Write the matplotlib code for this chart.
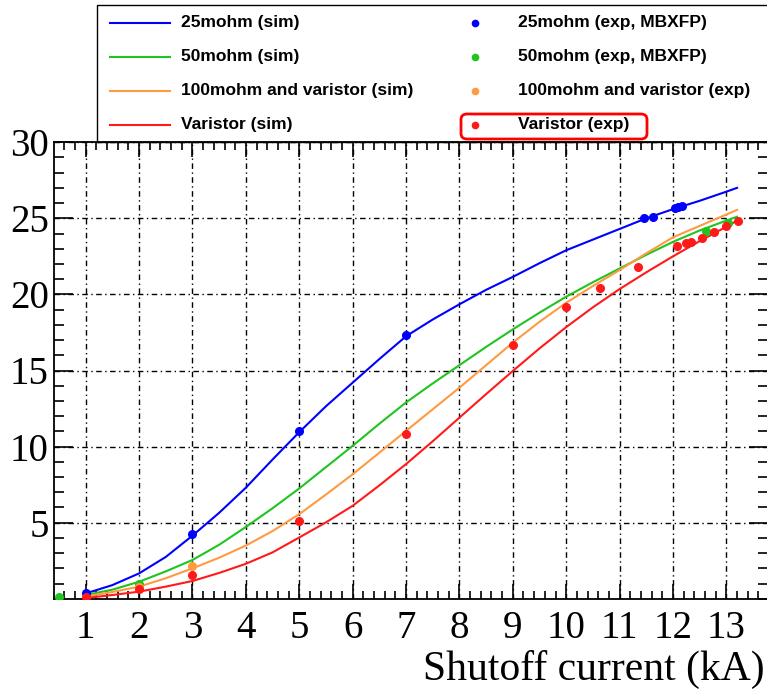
import matplotlib
matplotlib.use("Agg")
import matplotlib.pyplot as plt
from matplotlib.lines import Line2D
from matplotlib.patches import Rectangle, FancyBboxPatch
from matplotlib.ticker import MultipleLocator

# --- simulated curves (voltage vs shutoff current) ---
sim_x = [1, 1.5, 2, 2.5, 3, 3.5, 4, 4.5, 5, 5.5, 6, 6.5, 7, 7.5, 8, 8.5,
         9, 9.5, 10, 10.5, 11, 11.5, 12, 12.5, 13, 13.2]
sim_25mohm = [0.35, 0.9, 1.67, 2.75, 4.15, 5.65, 7.3, 9.15, 10.95, 12.65, 14.2, 15.75,
              17.25, 18.35, 19.35, 20.3, 21.15, 22.05, 22.9, 23.6, 24.3, 25.0,
              25.6, 26.15, 26.75, 27.0]
sim_50mohm = [0.25, 0.6, 1.12, 1.8, 2.55, 3.55, 4.72, 5.95, 7.25, 8.65, 10.05, 11.5,
              12.9, 14.15, 15.35, 16.55, 17.7, 18.8, 19.85, 20.8, 21.7, 22.6,
              23.45, 24.2, 24.85, 25.1]
sim_100mohm_var = [0.15, 0.45, 0.8, 1.35, 2.0, 2.7, 3.5, 4.45, 5.56, 6.85, 8.18, 9.6,
                   11.03, 12.45, 13.87, 15.35, 16.83, 18.2, 19.45, 20.55, 21.6, 22.7,
                   23.75, 24.5, 25.25, 25.55]
sim_varistor = [0.05, 0.25, 0.47, 0.8, 1.17, 1.7, 2.3, 3.05, 4.03, 5.02, 6.11, 7.45,
                8.85, 10.35, 11.9, 13.45, 14.97, 16.45, 17.85, 19.15, 20.35, 21.45,
                22.5, 23.5, 24.45, 24.85]

# --- measurements ---
exp_25mohm_x = [1, 3, 5, 7, 11.46, 11.63, 12.03, 12.1, 12.16]
exp_25mohm_y = [0.36, 4.24, 11.03, 17.3, 25.0, 25.1, 25.7, 25.77, 25.8]
exp_50mohm_x = [0.5, 2, 12.62, 13.04]
exp_50mohm_y = [0.1, 1.0, 24.16, 24.71]
exp_100mohm_var_x = [2, 3]
exp_100mohm_var_y = [0.8, 2.17]
exp_varistor_x = [1, 2, 3, 5, 7, 9, 10, 10.63, 11.34, 12.08, 12.25, 12.33,
                  12.55, 12.77, 12.99, 13.22]
exp_varistor_y = [0.1, 0.62, 1.54, 5.08, 10.83, 16.65, 19.16, 20.4, 21.83, 23.17,
                  23.35, 23.44, 23.7, 24.1, 24.47, 24.85]

labels_sim = ["25mohm (sim)", "50mohm (sim)", "100mohm and varistor (sim)", "Varistor (sim)"]
labels_exp = ["25mohm (exp, MBXFP)", "50mohm (exp, MBXFP)",
              "100mohm and varistor (exp)", "Varistor (exp)"]
colors = ["#0000ff", "#1fc41f", "#ff9a40", "#ff1a1a"]

W, H = 767, 690
fig = plt.figure(figsize=(W / 100, H / 100), dpi=100)


def fx(px):
    return px / W


def fy(py):
    return 1 - py / H


ax = fig.add_axes([fx(54.3), fy(598.8), fx(768) - fx(54.3), fy(142.2) - fy(598.8)])
ax.set_xlim(0.412, 13.78)
ax.set_ylim(0, 30)

sims = [sim_25mohm, sim_50mohm, sim_100mohm_var, sim_varistor]
exps = [(exp_25mohm_x, exp_25mohm_y), (exp_50mohm_x, exp_50mohm_y),
        (exp_100mohm_var_x, exp_100mohm_var_y), (exp_varistor_x, exp_varistor_y)]

for ys, c in zip(sims, colors):
    ax.plot(sim_x, ys, color=c, lw=1.5, zorder=3, solid_joinstyle='round')
for (xs, ys), c in zip(exps, colors):
    ax.plot(xs, ys, 'o', color=c, ms=5.5, mec=c, zorder=4)

# ROOT-style axes: ticks inside on all four sides
ax.xaxis.set_major_locator(MultipleLocator(1))
ax.xaxis.set_minor_locator(MultipleLocator(0.2))
ax.yaxis.set_major_locator(MultipleLocator(5))
ax.yaxis.set_minor_locator(MultipleLocator(1))
ax.tick_params(which='both', direction='in', top=True, right=True, width=1.2, color='black')
ax.tick_params(axis='x', which='major', length=11, pad=8)
ax.tick_params(axis='x', which='minor', length=5.5)
ax.tick_params(axis='y', which='major', length=14, pad=4)
ax.tick_params(axis='y', which='minor', length=7.5)
ax.set_xticks(range(1, 14))
ax.set_xticklabels([str(i) for i in range(1, 14)], fontfamily='Liberation Serif', fontsize=28)
ax.set_yticks([5, 10, 15, 20, 25, 30])
ax.set_yticklabels(['5', '10', '15', '20', '25', '30'], fontfamily='Liberation Serif', fontsize=28)
for sp in ax.spines.values():
    sp.set_linewidth(1.3)

ax.grid(True, which='major', color='black', lw=1.0, ls=(0, (4, 2.5, 1, 2.5)))
ax.set_axisbelow(True)

fig.text(fx(765), fy(680), "Shutoff current (kA)", ha='right', va='baseline',
         fontfamily='Liberation Serif', fontsize=30)

# legend box drawn by hand, two columns
fig.add_artist(Rectangle((fx(97.3), fy(142.2)), fx(790) - fx(97.3), fy(5.3) - fy(142.2),
                         transform=fig.transFigure, fill=False, ec='black', lw=1.0))
rows = [22.7, 56.7, 90.7, 124.7]
for row, c, ls, le in zip(rows, colors, labels_sim, labels_exp):
    fig.add_artist(Line2D([fx(110), fx(170)], [fy(row), fy(row)], color=c, lw=1.5,
                          transform=fig.transFigure))
    fig.text(fx(181), fy(row), ls, ha='left', va='center', fontfamily='Liberation Sans',
             fontweight='bold', fontsize=12.5)
    fig.add_artist(Line2D([fx(475)], [fy(row)], marker='o', ms=4.5, color=c, lw=0,
                          transform=fig.transFigure))
    fig.text(fx(518), fy(row), le, ha='left', va='center', fontfamily='Liberation Sans',
             fontweight='bold', fontsize=12.5)

# highlight around the varistor measurement entry
fig.add_artist(FancyBboxPatch((fx(461), fy(139)), fx(647) - fx(461), fy(114) - fy(139),
                              boxstyle="round,pad=0,rounding_size=0.008",
                              transform=fig.transFigure, fill=False, ec='#ff0000', lw=2.0))

fig.savefig("out.png", dpi=100)
